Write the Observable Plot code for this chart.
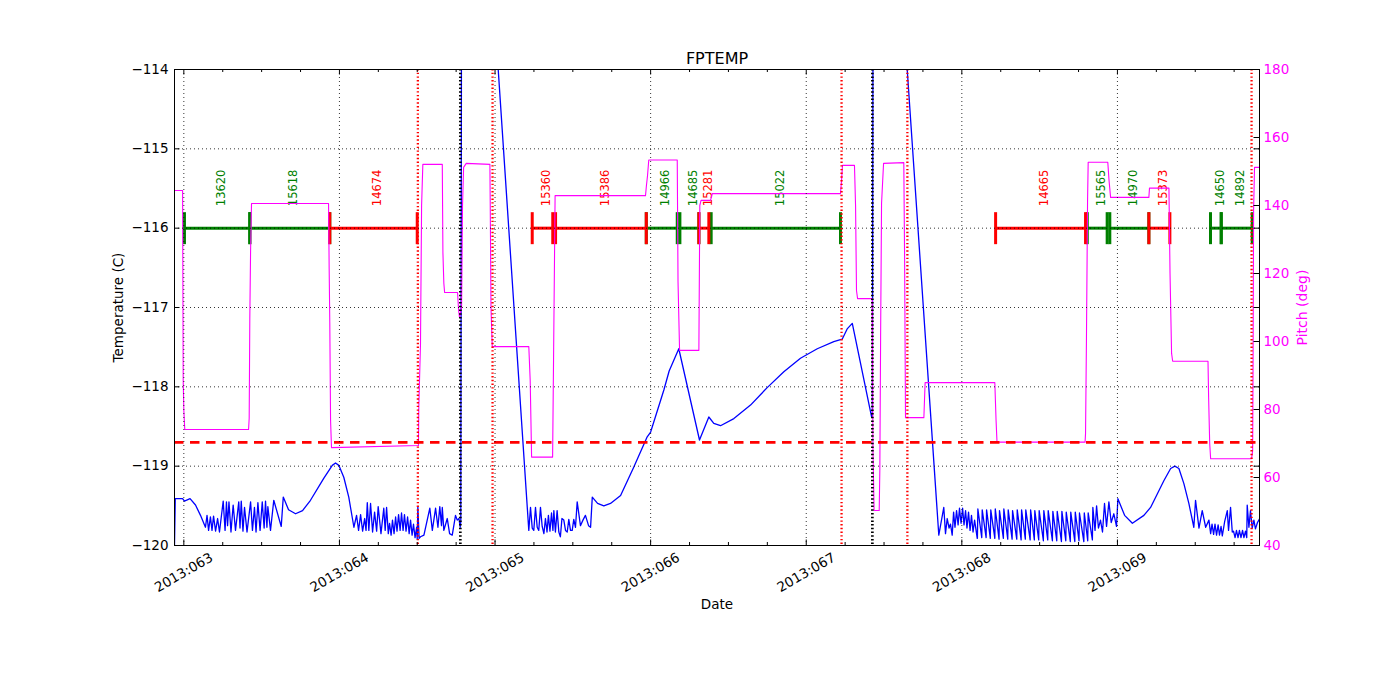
<!DOCTYPE html>
<html><head><meta charset="utf-8">
<script src="https://cdn.jsdelivr.net/npm/d3@7"></script>
<script src="https://cdn.jsdelivr.net/npm/@observablehq/plot@0.6"></script>
<style>body{margin:0;background:#fff;}</style>
</head><body><div id="chart"></div>
<script>
// ---------- data ----------
const xDomain = [62.940, 69.913];          // day of year 2013
const tempDomain = [-120, -114];
const pitchDomain = [40, 180];
const dayTicks = [63, 64, 65, 66, 67, 68, 69];
const dayTickLabels = ["2013:063", "2013:064", "2013:065", "2013:066", "2013:067", "2013:068", "2013:069"];
const minorDays = [63.25, 63.5, 63.75, 64.25, 64.5, 64.75, 65.25, 65.5, 65.75, 66.25, 66.5, 66.75,
  67.25, 67.5, 67.75, 68.25, 68.5, 68.75, 69.25, 69.5, 69.75];
const tempTicks = [-120, -119, -118, -117, -116, -115, -114];
const pitchTicks = [40, 60, 80, 100, 120, 140, 160, 180];
const tempLimit = -118.7;
const barLevel = -116;
const redLines = [64.504, 64.984, 67.227, 67.650, 69.862];
const blackLines = [64.777, 67.425];

// FPTEMP [day, degC]
const fptemp = [
[62.940,-120.00],[62.945,-119.41],[62.992,-119.41],[63.004,-119.44],[63.040,-119.41],[63.075,-119.49],[63.107,-119.62],[63.139,-119.77],
[63.149,-119.62],[63.159,-119.81],[63.171,-119.64],[63.181,-119.81],[63.191,-119.63],[63.204,-119.82],[63.217,-119.66],[63.229,-119.83],
[63.253,-119.44],[63.265,-119.81],[63.274,-119.45],[63.281,-119.75],[63.290,-119.45],[63.303,-119.83],[63.317,-119.49],[63.332,-119.81],
[63.353,-119.45],[63.361,-119.78],[63.369,-119.44],[63.380,-119.82],[63.390,-119.52],[63.406,-119.83],[63.429,-119.45],[63.441,-119.81],
[63.454,-119.52],[63.464,-119.83],[63.476,-119.46],[63.490,-119.81],[63.504,-119.45],[63.516,-119.78],[63.525,-119.44],[63.534,-119.77],
[63.540,-119.51],[63.557,-119.81],[63.578,-119.43],[63.626,-119.76],[63.639,-119.39],[63.673,-119.55],[63.718,-119.60],[63.763,-119.56],
[63.814,-119.43],[63.900,-119.15],[63.954,-118.99],[63.975,-118.96],[63.996,-118.99],[64.028,-119.14],[64.060,-119.39],[64.093,-119.77],
[64.110,-119.62],[64.123,-119.81],[64.136,-119.61],[64.149,-119.82],[64.162,-119.66],[64.171,-119.81],[64.179,-119.46],[64.189,-119.81],
[64.200,-119.47],[64.213,-119.83],[64.226,-119.58],[64.239,-119.82],[64.249,-119.51],[64.267,-119.85],[64.285,-119.53],[64.294,-119.81],
[64.303,-119.52],[64.314,-119.85],
[64.322,-119.72],[64.332,-119.87],[64.341,-119.68],[64.351,-119.85],[64.361,-119.64],[64.370,-119.82],[64.380,-119.61],[64.390,-119.81],
[64.399,-119.59],[64.409,-119.81],[64.418,-119.61],[64.428,-119.82],[64.438,-119.64],[64.448,-119.85],[64.457,-119.68],[64.467,-119.87],
[64.476,-119.73],[64.486,-119.90],[64.496,-119.77],[64.500,-119.92],
[64.504,-119.51],[64.512,-119.91],[64.521,-119.89],[64.543,-119.87],[64.581,-119.53],[64.597,-119.81],[64.618,-119.53],[64.633,-119.77],
[64.645,-119.51],[64.656,-119.75],[64.661,-119.52],[64.671,-119.81],[64.693,-119.66],[64.708,-119.85],[64.725,-119.87],[64.746,-119.62],
[64.757,-119.68],[64.768,-119.66],[64.776,-119.77],[64.780,-119.70],
[64.785,-112.50],[64.971,-112.54],
[65.217,-119.81],[65.228,-119.52],[65.239,-119.78],[65.249,-119.81],[65.260,-119.52],[65.271,-119.77],[65.281,-119.81],[65.292,-119.52],
[65.303,-119.76],[65.314,-119.85],
[65.324,-119.66],[65.334,-119.83],[65.343,-119.62],[65.353,-119.82],[65.363,-119.59],[65.372,-119.81],[65.378,-119.56],[65.388,-119.83],
[65.399,-119.56],[65.410,-119.83],[65.420,-119.89],
[65.430,-119.66],[65.442,-119.68],[65.453,-119.81],[65.464,-119.83],[65.474,-119.67],[65.485,-119.81],[65.496,-119.81],[65.506,-119.67],
[65.517,-119.77],[65.528,-119.45],[65.549,-119.75],[65.565,-119.68],[65.581,-119.62],[65.601,-119.75],[65.614,-119.77],[65.625,-119.39],
[65.659,-119.47],[65.699,-119.50],[65.742,-119.47],[65.807,-119.37],[65.892,-119.01],[65.978,-118.63],[66.000,-118.57],[66.085,-118.04],
[66.119,-117.80],[66.181,-117.52],
[66.314,-118.67],[66.374,-118.38],[66.406,-118.46],[66.449,-118.49],[66.535,-118.40],[66.642,-118.23],[66.749,-118.01],[66.856,-117.81],
[66.963,-117.64],[67.071,-117.52],[67.177,-117.43],[67.231,-117.40],[67.263,-117.27],[67.296,-117.20],[67.420,-118.38],[67.425,-118.37],
[67.430,-112.50],[67.606,-112.76],
[67.852,-119.87],[67.884,-119.52],[67.895,-119.85],[67.906,-119.66],[67.918,-119.78],[67.927,-119.73],[67.938,-119.87],
[67.947,-119.58],[67.956,-119.77],[67.966,-119.56],[67.976,-119.74],[67.985,-119.53],[67.995,-119.72],[68.005,-119.53],[68.014,-119.74],
[68.024,-119.56],[68.033,-119.78],[68.043,-119.58],[68.053,-119.81],[68.062,-119.62],[68.072,-119.83],[68.082,-119.68],[68.099,-119.91],
[68.100,-119.91],[68.103,-119.54],[68.128,-119.90],[68.131,-119.55],[68.156,-119.90],[68.159,-119.55],[68.183,-119.91],[68.186,-119.55],
[68.212,-119.91],[68.215,-119.54],[68.239,-119.92],[68.242,-119.56],[68.267,-119.91],[68.270,-119.54],[68.295,-119.92],[68.298,-119.55],
[68.323,-119.92],[68.326,-119.56],[68.353,-119.92],[68.356,-119.55],[68.381,-119.93],[68.384,-119.55],[68.408,-119.92],[68.411,-119.55],
[68.439,-119.93],[68.442,-119.55],[68.466,-119.93],[68.469,-119.56],[68.494,-119.93],[68.497,-119.56],[68.524,-119.94],[68.527,-119.56],
[68.552,-119.93],[68.555,-119.56],[68.582,-119.94],[68.585,-119.57],[68.610,-119.94],[68.613,-119.57],[68.640,-119.95],[68.643,-119.57],
[68.668,-119.94],[68.671,-119.58],[68.697,-119.95],[68.700,-119.58],[68.726,-119.95],[68.729,-119.58],[68.753,-119.94],[68.756,-119.59],
[68.784,-119.95],[68.787,-119.59],[68.809,-119.94],[68.812,-119.59],[68.839,-119.93],[68.842,-119.52],
[68.856,-119.81],[68.866,-119.50],[68.878,-119.78],[68.891,-119.68],[68.904,-119.83],[68.917,-119.47],[68.930,-119.76],[68.945,-119.45],
[68.960,-119.71],[68.977,-119.60],[68.994,-119.76],[69.003,-119.41],
[69.046,-119.62],[69.096,-119.72],[69.170,-119.62],[69.213,-119.52],[69.256,-119.35],[69.299,-119.18],[69.342,-119.03],[69.369,-119.00],
[69.395,-119.03],[69.427,-119.22],[69.459,-119.47],[69.491,-119.77],
[69.502,-119.43],[69.524,-119.78],[69.545,-119.56],[69.567,-119.77],[69.588,-119.68],
[69.599,-119.85],[69.608,-119.73],[69.618,-119.86],[69.627,-119.73],[69.637,-119.87],[69.647,-119.74],[69.656,-119.87],[69.666,-119.76],
[69.674,-119.88],[69.689,-119.70],[69.706,-119.56],[69.714,-119.81],[69.727,-119.52],[69.738,-119.83],
[69.746,-119.82],[69.756,-119.90],[69.765,-119.81],[69.775,-119.90],[69.784,-119.81],[69.794,-119.90],[69.804,-119.81],[69.813,-119.90],
[69.823,-119.82],[69.831,-119.90],
[69.834,-119.49],[69.845,-119.77],[69.855,-119.56],[69.866,-119.78],[69.877,-119.68],[69.887,-119.79],[69.900,-119.71],[69.915,-119.66]
];

// Pitch [day, deg]
const pitch = [
[62.940,144.4],[62.992,144.4],[62.996,88.5],[63.000,79.7],[63.006,74.1],[63.416,74.1],[63.420,77.4],[63.424,106.8],[63.429,126.8],
[63.435,140.6],[63.930,140.6],[63.934,121.5],[63.938,105.6],[63.943,76.8],[63.949,68.8],[64.508,69.4],[64.510,80.6],[64.521,99.4],
[64.528,140.0],[64.536,152.1],[64.661,152.1],[64.665,126.2],[64.671,117.1],[64.676,114.4],[64.759,114.4],[64.766,109.1],[64.772,107.1],
[64.785,110.0],[64.791,140.0],[64.798,151.2],[64.815,152.4],[64.967,152.1],[64.969,141.5],[64.974,110.0],[64.982,98.5],[65.217,98.5],
[65.226,88.5],[65.235,66.0],[65.370,66.0],[65.376,94.4],[65.386,142.9],[65.967,142.9],[65.973,145.9],[65.980,148.8],[65.988,153.4],
[66.171,153.4],[66.176,117.6],[66.186,97.4],[66.310,97.4],[66.316,140.0],[66.324,141.5],[66.385,141.5],[66.396,143.5],[67.220,143.5],
[67.227,147.4],[67.233,151.8],[67.310,151.8],[67.317,140.0],[67.323,115.0],[67.330,112.6],[67.424,112.6],[67.429,67.9],[67.436,50.3],
[67.469,50.3],[67.473,62.1],[67.478,101.2],[67.484,140.6],[67.497,152.4],[67.627,152.6],[67.632,125.9],[67.638,77.6],[67.756,77.6],
[67.764,87.9],[68.212,87.9],[68.220,76.8],[68.226,70.4],[68.792,70.4],[68.795,72.9],[68.801,101.3],[68.808,141.5],[68.812,152.7],
[68.938,152.7],[68.946,147.4],[68.956,142.4],[69.202,142.4],[69.206,145.1],[69.331,145.1],[69.338,120.0],[69.348,96.5],[69.355,94.2],
[69.582,94.2],[69.586,83.6],[69.593,70.0],[69.599,65.5],[69.862,65.5],[69.869,67.9],[69.872,97.4],[69.875,138.5],[69.881,151.2],
[69.915,151.2]
];

// observation segments
const greenSegments = [
  {start: 63.004, end: 63.424, label: "13620"},
  {start: 63.424, end: 63.938, label: "15618"},
  {start: 65.972, end: 66.171, label: "14966"},
  {start: 66.188, end: 66.310, label: "14685"},
  {start: 66.389, end: 67.220, label: "15022"},
  {start: 68.806, end: 68.934, label: "15565"},
  {start: 68.951, end: 69.202, label: "14970"},
  {start: 69.598, end: 69.667, label: "14650"},
  {start: 69.667, end: 69.866, label: "14892"}
];
const redSegments = [
  {start: 63.938, end: 64.500, label: "14674"},
  {start: 65.239, end: 65.371, label: "15360"},
  {start: 65.389, end: 65.972, label: "15386"},
  {start: 66.310, end: 66.374, label: "15281"},
  {start: 68.217, end: 68.795, label: "14665"},
  {start: 69.202, end: 69.337, label: "15373"}
];

// ---------- drawing ----------
const W = 1400, H = 700, mL = 174, mR = 141, mT = 69, mB = 155;
const frameW = W - mL - mR, frameH = H - mT - mB;
const majorLen = 5.5, minorLen = 3;
const BLUE = "#0000ff", MAG = "#ff00ff", GREEN = "#008000", RED = "#ff0000";
const toTemp = p => tempDomain[0] + (p - pitchDomain[0]) * (tempDomain[1] - tempDomain[0]) / (pitchDomain[1] - pitchDomain[0]);
const fmtNum = v => (v < 0 ? "\u2212" : "") + Math.abs(v);
const barTick = {draw(ctx) { ctx.moveTo(0, -16); ctx.lineTo(0, 16); }};
const ends = segs => segs.flatMap(s => [s.start, s.end]);

function segMarks(segs, color) {
  return [
    Plot.ruleY(segs, {y: () => barLevel, x1: "start", x2: "end", stroke: color, strokeWidth: 3}),
    Plot.dot(ends(segs), {x: d => d, y: () => barLevel, symbol: barTick, stroke: color, strokeWidth: 3, fill: "none"}),
    Plot.text(segs, {x: d => (d.start + d.end) / 2, y: () => barLevel, text: "label", rotate: -90,
      textAnchor: "start", lineAnchor: "middle", dx: 4, dy: -22, fill: color, fontSize: 11.5})
  ];
}

const grid = {stroke: "black", strokeWidth: 0.8, strokeDasharray: "1,3", strokeOpacity: 1};

const chart = Plot.plot({
  width: W, height: H,
  marginLeft: mL, marginRight: mR, marginTop: mT, marginBottom: mB,
  style: {fontFamily: "DejaVu Sans, sans-serif", fontSize: "13px", background: "white", color: "black", overflow: "visible"},
  x: {domain: xDomain, axis: null},
  y: {domain: tempDomain, axis: null},
  marks: [
    Plot.line(fptemp, {x: d => d[0], y: d => d[1], stroke: BLUE, strokeWidth: 1.3, clip: true}),
    ...segMarks(greenSegments, GREEN),
    ...segMarks(redSegments, RED),
    Plot.line(pitch, {x: d => d[0], y: d => toTemp(d[1]), stroke: MAG, strokeWidth: 1.1, clip: true}),
    Plot.ruleY([tempLimit], {y: d => d, stroke: RED, strokeWidth: 2.6, strokeDasharray: "9.5,6.5"}),
    Plot.ruleX(redLines, {x: d => d, stroke: RED, strokeWidth: 2.3, strokeDasharray: "1.4,2.3"}),
    Plot.ruleX(blackLines, {x: d => d, stroke: "black", strokeWidth: 2.7, strokeDasharray: "1.5,2.2"}),
    // grid (drawn over data, classic style)
    Plot.ruleX(dayTicks, {x: d => d, ...grid}),
    Plot.ruleY(tempTicks.slice(1, -1), {y: d => d, ...grid}),
    // ticks pointing inward
    Plot.tickX(dayTicks, {x: d => d, insetTop: frameH - majorLen, stroke: "black"}),
    Plot.tickX(dayTicks, {x: d => d, insetBottom: frameH - majorLen, stroke: "black"}),
    Plot.tickX(minorDays, {x: d => d, insetTop: frameH - minorLen, stroke: "black"}),
    Plot.tickX(minorDays, {x: d => d, insetBottom: frameH - minorLen, stroke: "black"}),
    Plot.tickY(tempTicks, {y: d => d, insetRight: frameW - majorLen, stroke: "black"}),
    Plot.tickY(tempTicks, {y: d => d, insetLeft: frameW - majorLen, stroke: "black"}),
    Plot.tickY(pitchTicks, {y: d => toTemp(d), insetLeft: frameW - majorLen, stroke: "black"}),
    Plot.frame({stroke: "black", strokeWidth: 1}),
    // tick labels
    Plot.text(tempTicks, {y: d => d, text: d => fmtNum(d), frameAnchor: "left", textAnchor: "end", lineAnchor: "middle", dx: -6, fontSize: 13.5}),
    Plot.text(pitchTicks, {y: d => toTemp(d), text: d => String(d), frameAnchor: "right", textAnchor: "start", lineAnchor: "middle", dx: 4, fill: MAG, fontSize: 13.5}),
    Plot.text(dayTicks, {x: d => d, text: (d, i) => dayTickLabels[i], frameAnchor: "bottom", textAnchor: "middle", lineAnchor: "middle", rotate: -30, dy: 27, fontSize: 13.5}),
    // axis labels and title
    Plot.text(["Temperature (C)"], {text: d => d, frameAnchor: "left", textAnchor: "middle", lineAnchor: "middle", rotate: -90, dx: -56, fontSize: 13.5}),
    Plot.text(["Pitch (deg)"], {text: d => d, frameAnchor: "right", textAnchor: "middle", lineAnchor: "middle", rotate: -90, dx: 43, fill: MAG, fontSize: 14}),
    Plot.text(["Date"], {text: d => d, frameAnchor: "bottom", textAnchor: "middle", lineAnchor: "middle", dy: 59, fontSize: 13.5}),
    Plot.text(["FPTEMP"], {text: d => d, frameAnchor: "top", textAnchor: "middle", lineAnchor: "middle", dy: -11, fontSize: 16})
  ]
});
document.getElementById("chart").appendChild(chart);
</script>
</body></html>
